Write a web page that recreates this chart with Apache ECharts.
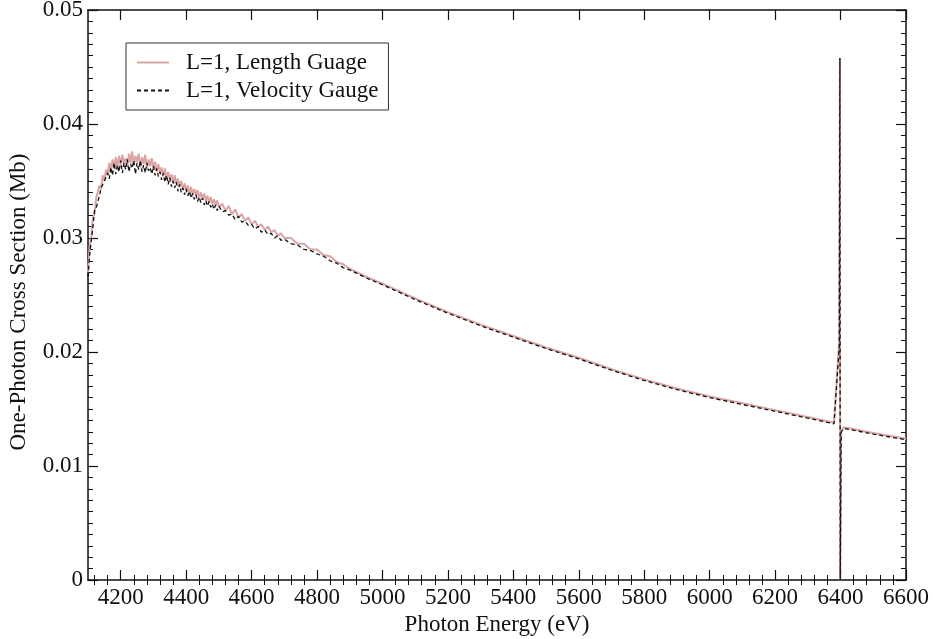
<!DOCTYPE html>
<html>
<head>
<meta charset="utf-8">
<script src="https://cdn.jsdelivr.net/npm/echarts@6/dist/echarts.min.js"></script>
<style>
  html, body { margin: 0; padding: 0; background: #fff; }
  #chart { width: 933px; height: 639px; }
</style>
</head>
<body>
<div id="chart"></div>
<script>
// photon energy (eV)
const energy = [
  4100, 4105, 4110, 4115, 4120, 4125, 4130, 4135, 4140, 4145,
  4150, 4155, 4160, 4165, 4170, 4175, 4180, 4185, 4190, 4195,
  4200, 4205, 4210, 4215, 4220, 4225, 4230, 4235, 4240, 4245,
  4250, 4255, 4260, 4265, 4270, 4275, 4280, 4285, 4290, 4295,
  4300, 4305, 4310, 4315, 4320, 4325, 4330, 4335, 4340, 4345,
  4350, 4355, 4360, 4365, 4370, 4375, 4380, 4385, 4390, 4395,
  4400, 4405, 4410, 4415, 4420, 4425, 4430, 4435, 4440, 4445,
  4450, 4455, 4460, 4465, 4470, 4475, 4480, 4485, 4490, 4495,
  4500, 4510, 4520, 4530, 4540, 4550, 4560, 4570, 4580, 4590,
  4600, 4610, 4620, 4630, 4640, 4650, 4660, 4670, 4680, 4690,
  4700, 4720, 4740, 4760, 4780, 4800, 4820, 4840, 4860, 4880,
  4900, 4950, 5000, 5100, 5200, 5300, 5400, 5500, 5600, 5700,
  5800, 5900, 6000, 6100, 6200, 6300, 6380, 6396, 6398, 6399,
  6402, 6410, 6500, 6600
];

// L=1, Length Guage (Mb)
const lengthGauge = [
  0.0270, 0.0292, 0.0300, 0.0318, 0.0321, 0.0335, 0.0334, 0.0346, 0.0343, 0.0355,
  0.0350, 0.0360, 0.0355, 0.0366, 0.0358, 0.0369, 0.0361, 0.0371, 0.0362, 0.0372,
  0.0364, 0.0373, 0.0365, 0.0370, 0.0363, 0.0374, 0.0366, 0.0376, 0.0364, 0.0372,
  0.0367, 0.0374, 0.0362, 0.0371, 0.0365, 0.0373, 0.0361, 0.0369, 0.0363, 0.0370,
  0.0360, 0.0367, 0.0358, 0.0365, 0.0357, 0.0362, 0.0354, 0.0361, 0.0352, 0.0358,
  0.0351, 0.0356, 0.0348, 0.0355, 0.0347, 0.0352, 0.0345, 0.0350, 0.0342, 0.0348,
  0.0341, 0.0346, 0.0339, 0.0345, 0.0338, 0.0343, 0.0337, 0.0342, 0.0335, 0.0340,
  0.0334, 0.0339, 0.0333, 0.0337, 0.0331, 0.0336, 0.0330, 0.0334, 0.0329, 0.0333,
  0.0327, 0.0330, 0.0324, 0.0328, 0.0321, 0.0325, 0.0318, 0.0321, 0.0315, 0.0318,
  0.0312, 0.0315, 0.0310, 0.0312, 0.0307, 0.0310, 0.0305, 0.0307, 0.0302, 0.0304,
  0.0300, 0.0300, 0.0295, 0.0295, 0.0290, 0.0290, 0.0285, 0.0284, 0.0279, 0.0277,
  0.0273, 0.0266, 0.0260, 0.0247, 0.0235, 0.0224, 0.0214, 0.0204, 0.0195, 0.0185,
  0.0176, 0.0168, 0.0161, 0.0155, 0.0149, 0.0143, 0.0138, 0.0210, 0.0458, 0,
  0.0130, 0.0134, 0.0129, 0.0124
];

// L=1, Velocity Gauge (Mb)
const velocityGauge = [
  0.0266, 0.0285, 0.0298, 0.0310, 0.0324, 0.0326, 0.0332, 0.0337, 0.0344, 0.0343,
  0.0350, 0.0349, 0.0357, 0.0352, 0.0362, 0.0355, 0.0366, 0.0356, 0.0364, 0.0358,
  0.0368, 0.0357, 0.0366, 0.0360, 0.0369, 0.0358, 0.0365, 0.0361, 0.0368, 0.0356,
  0.0366, 0.0360, 0.0368, 0.0358, 0.0364, 0.0357, 0.0366, 0.0359, 0.0362, 0.0356,
  0.0363, 0.0355, 0.0361, 0.0354, 0.0358, 0.0351, 0.0357, 0.0349, 0.0355, 0.0347,
  0.0353, 0.0345, 0.0350, 0.0344, 0.0349, 0.0341, 0.0347, 0.0340, 0.0344, 0.0338,
  0.0343, 0.0337, 0.0341, 0.0335, 0.0339, 0.0334, 0.0338, 0.0332, 0.0336, 0.0331,
  0.0335, 0.0329, 0.0333, 0.0328, 0.0332, 0.0327, 0.0330, 0.0325, 0.0329, 0.0324,
  0.0328, 0.0323, 0.0324, 0.0320, 0.0321, 0.0316, 0.0319, 0.0314, 0.0315, 0.0311,
  0.0312, 0.0308, 0.0310, 0.0305, 0.0307, 0.0303, 0.0304, 0.0300, 0.0302, 0.0298,
  0.0299, 0.0295, 0.0294, 0.0290, 0.0289, 0.0286, 0.0284, 0.0280, 0.0278, 0.0274,
  0.0272, 0.0265, 0.0259, 0.0246, 0.0234, 0.0223, 0.0213, 0.0203, 0.0194, 0.0184,
  0.0175, 0.0167, 0.0160, 0.0154, 0.0148, 0.0142, 0.0137, 0.0205, 0.0458, 0,
  0.0130, 0.0133, 0.0128, 0.0123
];

const xTickLabels = [4200, 4400, 4600, 4800, 5000, 5200, 5400, 5600, 5800, 6000, 6200, 6400, 6600];

const xMinorTicks = [];
for (let v = 4120; v <= 6600; v += 40) {
  if (v % 200 !== 0) xMinorTicks.push(v);
}

const font = "'Liberation Serif', 'DejaVu Serif', serif";
const ink = '#111';
const fs = 23;

const baseX = {
  type: 'value',
  min: 4100,
  max: 6600,
  splitLine: { show: false },
  axisLabel: { show: false },
  axisLine: { show: false },
  axisTick: { show: false }
};

const baseY = {
  type: 'value',
  min: 0,
  max: 0.05,
  interval: 0.01,
  splitLine: { show: false },
  axisLabel: { show: false },
  axisLine: { show: true, onZero: false, lineStyle: { color: ink, width: 1.5 } },
  axisTick: { show: true, inside: true, length: 10, lineStyle: { color: ink, width: 1.2 } },
  minorTick: { show: true, splitNumber: 10, length: 5, lineStyle: { color: ink, width: 1 } }
};

const majorTick = { show: true, inside: true, length: 10, customValues: xTickLabels, lineStyle: { color: ink, width: 1.2 } };
const minorTick = { show: true, inside: true, length: 5, customValues: xMinorTicks, lineStyle: { color: ink, width: 1 } };

const option = {
  animation: false,
  backgroundColor: '#fff',
  grid: { left: 88, right: 27, top: 10, bottom: 59, containLabel: false, outerBoundsMode: 'none' },
  legend: {
    orient: 'vertical',
    left: 126,
    top: 43,
    padding: [8, 10, 8, 10],
    itemGap: 5,
    itemWidth: 32,
    itemHeight: 14,
    borderColor: '#333',
    borderWidth: 1,
    itemStyle: { opacity: 0 },
    textStyle: { fontFamily: font, fontSize: fs, color: ink, padding: [0, 0, 0, 12] },
    data: ['L=1, Length Guage', 'L=1, Velocity Gauge']
  },
  xAxis: [
    Object.assign({}, baseX, {
      position: 'bottom',
      name: 'Photon Energy (eV)',
      nameLocation: 'middle',
      nameGap: 30,
      nameTextStyle: { fontFamily: font, fontSize: fs, color: ink },
      axisLine: { show: true, onZero: false, lineStyle: { color: ink, width: 1.5 } },
      axisLabel: {
        show: true, customValues: xTickLabels, margin: 6,
        fontFamily: font, fontSize: fs, color: ink,
        formatter: (v) => String(v)
      },
      axisTick: majorTick
    }),
    Object.assign({}, baseX, { position: 'bottom', axisTick: minorTick }),
    Object.assign({}, baseX, {
      position: 'top',
      axisLine: { show: true, onZero: false, lineStyle: { color: ink, width: 1.5 } },
      axisTick: majorTick
    }),
    Object.assign({}, baseX, { position: 'top', axisTick: minorTick })
  ],
  yAxis: [
    Object.assign({}, baseY, {
      position: 'left',
      name: 'One-Photon Cross Section (Mb)',
      nameLocation: 'middle',
      nameGap: 58,
      nameTextStyle: { fontFamily: font, fontSize: fs, color: ink, padding: [0, 14, 0, 0] },
      axisLabel: { show: true, margin: 5, fontFamily: font, fontSize: fs, color: ink }
    }),
    Object.assign({}, baseY, { position: 'right' })
  ],
  series: [
    {
      name: 'L=1, Length Guage',
      type: 'line',
      xAxisIndex: 0,
      yAxisIndex: 0,
      symbol: 'none',
      lineStyle: { color: '#dba4a4', width: 2 },
      itemStyle: { color: '#dba4a4' },
      data: energy.map((e, i) => [e, lengthGauge[i]])
    },
    {
      name: 'L=1, Velocity Gauge',
      type: 'line',
      xAxisIndex: 0,
      yAxisIndex: 0,
      symbol: 'none',
      lineStyle: { color: '#111', width: 1.3, type: [4, 3] },
      itemStyle: { color: '#111' },
      data: energy.map((e, i) => [e, velocityGauge[i]])
    }
  ]
};

const chart = echarts.init(document.getElementById('chart'));
chart.setOption(option);
</script>
</body>
</html>
